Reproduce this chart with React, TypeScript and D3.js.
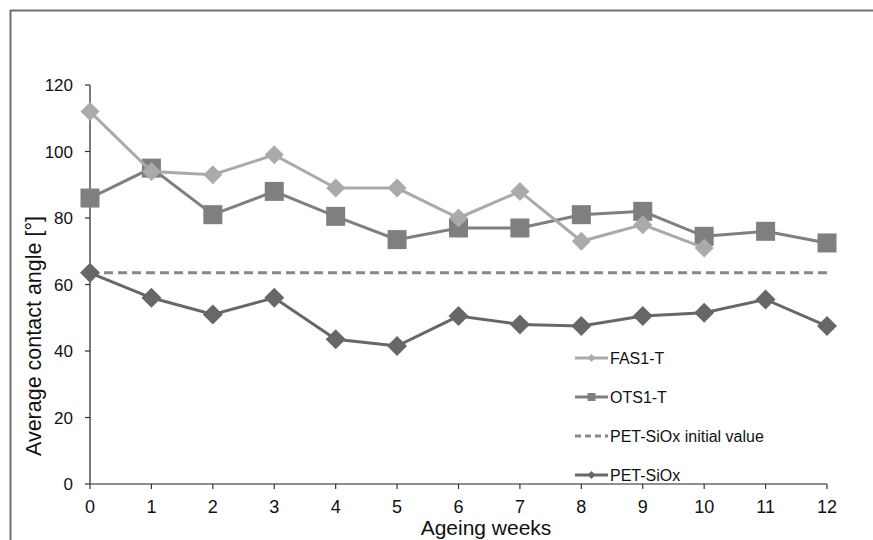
import * as d3 from "d3";

// ── Data ────────────────────────────────────────────────
const weeks = [0, 1, 2, 3, 4, 5, 6, 7, 8, 9, 10, 11, 12];
const fas1T = [112, 94, 93, 99, 89, 89, 80, 88, 73, 78, 71];
const ots1T = [86, 95, 81, 88, 80.5, 73.5, 77, 77, 81, 82, 74.5, 76, 72.5];
const petSiOx = [63.5, 56, 51, 56, 43.5, 41.5, 50.5, 48, 47.5, 50.5, 51.5, 55.5, 47.5];
const petInitial = 63.5;
const yTicks = [0, 20, 40, 60, 80, 100, 120];
const legendLabels = ["FAS1-T", "OTS1-T", "PET-SiOx initial value", "PET-SiOx"];

// ── Colours ─────────────────────────────────────────────
const C_FAS = "#aaaaaa";
const C_OTS = "#7f7f7f";
const C_INIT = "#878787";
const C_PET = "#676767";
const FONT = "'Liberation Sans', Arial, sans-serif";

// ── Layout ──────────────────────────────────────────────
const W = 873;
const H = 540;
const x = d3.scaleLinear().domain([0, 12]).range([90, 827]);
const y = d3.scaleLinear().domain([0, 120]).range([484, 85]);

const line = d3
  .line<number>()
  .x((_, i) => x(weeks[i]))
  .y((d) => y(d));

const diamond = (cx: number, cy: number, r: number) =>
  `M${cx},${cy - r}L${cx + r},${cy}L${cx},${cy + r}L${cx - r},${cy}Z`;

export default function App() {
  const legendY = [358, 397, 436, 475];
  const lx0 = 575;
  const lx1 = 608;

  return (
    <div style={{ position: "fixed", left: 0, top: 0, width: W, height: H, overflow: "hidden", background: "#fff" }}>
      <svg width={W} height={H} style={{ display: "block" }} fontFamily={FONT}>
        {/* frame */}
        <line x1={10} x2={W} y1={10.5} y2={10.5} stroke="#6e6e6e" strokeWidth={2} />
        <line x1={10.5} x2={10.5} y1={10} y2={H} stroke="#6e6e6e" strokeWidth={2} />

        {/* y axis */}
        <line x1={x(0)} x2={x(0)} y1={y(120)} y2={y(0)} stroke="#333" strokeWidth={1.3} />
        {yTicks.map((t) => (
          <g key={t}>
            <line x1={x(0) - 5} x2={x(0)} y1={y(t)} y2={y(t)} stroke="#333" strokeWidth={1.2} />
            <text x={73} y={y(t) + 6} textAnchor="end" fontSize={17} fill="#111">
              {t}
            </text>
          </g>
        ))}

        {/* x axis */}
        <line x1={x(0)} x2={x(12)} y1={y(0)} y2={y(0)} stroke="#6a6a6a" strokeWidth={1.5} />
        {weeks.map((t) => (
          <g key={t}>
            <line x1={x(t)} x2={x(t)} y1={y(0)} y2={y(0) + 5} stroke="#333" strokeWidth={1.2} />
            <text x={x(t)} y={513} textAnchor="middle" fontSize={18} fill="#111">
              {t}
            </text>
          </g>
        ))}

        {/* axis titles */}
        <text x={486} y={535} textAnchor="middle" fontSize={21} fill="#111">
          Ageing weeks
        </text>
        <text transform={`translate(41, 336) rotate(-90)`} textAnchor="middle" fontSize={21.5} fill="#111">
          Average contact angle [°]
        </text>

        {/* initial value dashed line */}
        <line
          x1={x(0)}
          x2={x(12)}
          y1={y(petInitial)}
          y2={y(petInitial)}
          stroke={C_INIT}
          strokeWidth={3}
          strokeDasharray="9,5"
        />

        {/* PET-SiOx */}
        <path d={line(petSiOx) ?? ""} fill="none" stroke={C_PET} strokeWidth={3} />
        {petSiOx.map((v, i) => (
          <path key={i} d={diamond(x(weeks[i]), y(v), 10)} fill={C_PET} />
        ))}

        {/* OTS1-T */}
        <path d={line(ots1T) ?? ""} fill="none" stroke={C_OTS} strokeWidth={3} />
        {ots1T.map((v, i) => (
          <rect key={i} x={x(weeks[i]) - 9.5} y={y(v) - 9.5} width={19} height={19} fill={C_OTS} />
        ))}

        {/* FAS1-T */}
        <path d={line(fas1T) ?? ""} fill="none" stroke={C_FAS} strokeWidth={3} />
        {fas1T.map((v, i) => (
          <path key={i} d={diamond(x(weeks[i]), y(v), 9.5)} fill={C_FAS} />
        ))}

        {/* legend */}
        <g>
          <line x1={lx0} x2={lx1} y1={legendY[0]} y2={legendY[0]} stroke={C_FAS} strokeWidth={3} />
          <path d={diamond((lx0 + lx1) / 2, legendY[0], 4)} fill={C_FAS} />
          <line x1={lx0} x2={lx1} y1={legendY[1]} y2={legendY[1]} stroke={C_OTS} strokeWidth={3} />
          <rect x={(lx0 + lx1) / 2 - 4} y={legendY[1] - 4} width={8} height={8} fill={C_OTS} />
          <line
            x1={lx0}
            x2={lx1}
            y1={legendY[2]}
            y2={legendY[2]}
            stroke={C_INIT}
            strokeWidth={3}
            strokeDasharray="6,4"
          />
          <line x1={lx0} x2={lx1} y1={legendY[3]} y2={legendY[3]} stroke={C_PET} strokeWidth={3} />
          <path d={diamond((lx0 + lx1) / 2, legendY[3], 4)} fill={C_PET} />
          {legendLabels.map((l, i) => (
            <text key={l} x={610} y={legendY[i] + 5.5} fontSize={16} fill="#111">
              {l}
            </text>
          ))}
        </g>
      </svg>
    </div>
  );
}
